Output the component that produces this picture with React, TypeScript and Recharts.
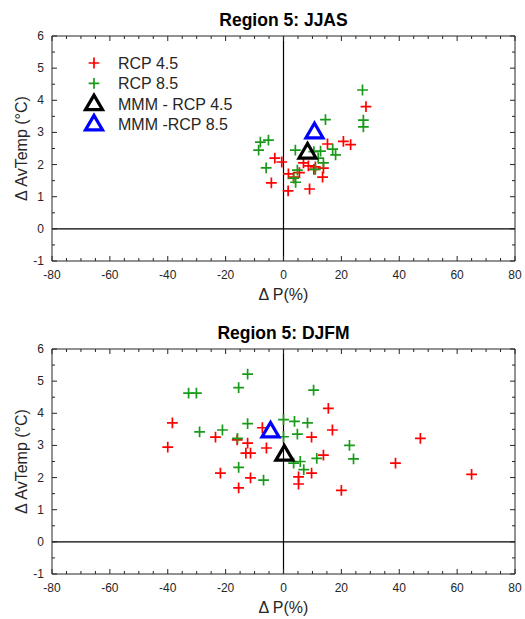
import React from 'react';
import { ScatterChart, Scatter, XAxis, YAxis, ReferenceLine, Legend, Label } from 'recharts';

// JJAS season, change in precipitation (%) vs change in mean temperature (°C)
const jjasRcp45 = [
  { p: 28.5, t: 3.8 }, { p: 20.7, t: 2.72 }, { p: 23.2, t: 2.62 }, { p: 15.2, t: 2.64 },
  { p: -3, t: 2.2 }, { p: -0.6, t: 2.08 }, { p: -4.2, t: 1.43 }, { p: 1.6, t: 1.18 },
  { p: 9, t: 1.24 }, { p: 1.7, t: 1.71 }, { p: 3.5, t: 1.61 }, { p: 6.9, t: 2.05 },
  { p: 8.6, t: 1.96 }, { p: 11, t: 1.93 }, { p: 13.8, t: 1.89 }, { p: 13.5, t: 1.61 },
  { p: 10.5, t: 1.85 }, { p: 5.5, t: 1.75 },
];
const jjasRcp85 = [
  { p: 27.3, t: 4.32 }, { p: 27.6, t: 3.38 }, { p: 27.6, t: 3.17 }, { p: 14.5, t: 3.4 },
  { p: -8, t: 2.7 }, { p: -5.2, t: 2.76 }, { p: -8.6, t: 2.45 }, { p: -6, t: 1.9 },
  { p: 4.1, t: 2.45 }, { p: 12.8, t: 2.42 }, { p: 17, t: 2.48 }, { p: 18, t: 2.3 },
  { p: 12, t: 2.2 }, { p: 13.8, t: 2.05 }, { p: 11, t: 1.85 }, { p: 4.8, t: 1.83 },
  { p: 3.5, t: 1.58 }, { p: 4.2, t: 1.45 }, { p: 10.5, t: 2.4 },
];
const jjasMmm45 = [{ p: 8.3, t: 2.39 }];
const jjasMmm85 = [{ p: 10.7, t: 3.02 }];

// DJFM season
const djfmRcp45 = [
  { p: -40, t: 2.95 }, { p: -38.4, t: 3.7 }, { p: -23.5, t: 3.26 }, { p: -21.8, t: 2.14 },
  { p: -16, t: 3.17 }, { p: -12.4, t: 3.07 }, { p: -13, t: 2.76 }, { p: -11.4, t: 2.76 },
  { p: -7.3, t: 3.55 }, { p: -5.9, t: 2.92 }, { p: -11.4, t: 1.99 }, { p: -15.5, t: 1.68 },
  { p: 9.7, t: 3.26 }, { p: 15.5, t: 4.15 }, { p: 16.9, t: 3.48 }, { p: 13.8, t: 2.7 },
  { p: 9.7, t: 2.14 }, { p: 5.2, t: 2.02 }, { p: 5.2, t: 1.8 }, { p: 20, t: 1.6 },
  { p: 38.7, t: 2.45 }, { p: 47.3, t: 3.22 }, { p: 65, t: 2.1 },
];
const djfmRcp85 = [
  { p: -12.4, t: 5.22 }, { p: -15.5, t: 4.8 }, { p: -32.8, t: 4.63 }, { p: -30.1, t: 4.63 },
  { p: 10.4, t: 4.72 }, { p: -29, t: 3.42 }, { p: -21.1, t: 3.48 }, { p: -12.4, t: 3.68 },
  { p: -15.9, t: 3.22 }, { p: 0, t: 3.8 }, { p: 3.8, t: 3.75 }, { p: 8.3, t: 3.7 },
  { p: 4.8, t: 3.35 }, { p: 0, t: 3.27 }, { p: 22.8, t: 3.0 }, { p: 24.2, t: 2.58 },
  { p: 11.5, t: 2.6 }, { p: -15.5, t: 2.32 }, { p: -6.9, t: 1.92 }, { p: 3.5, t: 2.45 },
  { p: 5.8, t: 2.5 }, { p: 7, t: 2.25 },
];
const djfmMmm45 = [{ p: 0.3, t: 2.73 }];
const djfmMmm85 = [{ p: -4.5, t: 3.45 }];

const seriesNames = ['RCP 4.5', 'RCP 8.5', 'MMM - RCP 4.5', 'MMM -RCP 8.5'];

// minor ticks every 5 % and every 0.5 °C; labels only on the major ones
const xTicks: number[] = [];
for (let v = -80; v <= 80; v += 5) xTicks.push(v);
const yTicks: number[] = [];
for (let v = -1; v <= 6; v += 0.5) yTicks.push(v);

const RED = '#ff0000';
const GREEN = '#1a9a1a';
const BLUE = '#0000ff';
const AXIS = '#262626';
const FONT = '"Liberation Sans", Arial, Helvetica, sans-serif';

const plusShape = (color: string) => (props: any) => {
  const { cx, cy } = props;
  const h = 5.4;
  return (
    <path
      d={`M${cx - h},${cy}H${cx + h}M${cx},${cy - h}V${cy + h}`}
      stroke={color}
      strokeWidth={1.7}
      fill="none"
    />
  );
};

const triangleShape = (color: string) => (props: any) => {
  const { cx, cy } = props;
  return (
    <path
      d={`M${cx},${cy - 8.5}L${cx - 8.5},${cy + 6}L${cx + 8.5},${cy + 6}Z`}
      stroke={color}
      strokeWidth={3.2}
      fill="none"
    />
  );
};

const XTickBottom = (props: any) => {
  const { x, y, payload } = props;
  const v = payload.value;
  const major = v % 20 === 0;
  return (
    <g>
      <line x1={x} x2={x} y1={y} y2={y - (major ? 5 : 3)} stroke={AXIS} />
      {major && (
        <text x={x} y={y + 18} textAnchor="middle" fontSize={12} fill={AXIS} fontFamily={FONT}>
          {v}
        </text>
      )}
    </g>
  );
};

const XTickTop = (props: any) => {
  const { x, y, payload } = props;
  const major = payload.value % 20 === 0;
  return <line x1={x} x2={x} y1={y} y2={y + (major ? 5 : 3)} stroke={AXIS} />;
};

const YTickLeft = (props: any) => {
  const { x, y, payload } = props;
  const v = payload.value;
  const major = Number.isInteger(v);
  return (
    <g>
      <line x1={x} x2={x + (major ? 5 : 3)} y1={y} y2={y} stroke={AXIS} />
      {major && (
        <text x={x - 8} y={y + 4} textAnchor="end" fontSize={12} fill={AXIS} fontFamily={FONT}>
          {v}
        </text>
      )}
    </g>
  );
};

const YTickRight = (props: any) => {
  const { x, y, payload } = props;
  const major = Number.isInteger(payload.value);
  return <line x1={x} x2={x - (major ? 5 : 3)} y1={y} y2={y} stroke={AXIS} />;
};

const renderLegend = () => {
  const icons = [plusShape(RED), plusShape(GREEN), triangleShape('#000'), triangleShape(BLUE)];
  return (
    <svg width={170} height={84}>
      {seriesNames.map((name, i) => (
        <g key={name}>
          {icons[i]({ cx: 12, cy: 10 + i * 20.3 })}
          <text x={36} y={16 + i * 20.3} fontSize={16} fill={AXIS} fontFamily={FONT}>
            {name}
          </text>
        </g>
      ))}
    </svg>
  );
};

interface PanelProps {
  title: string;
  rcp45: { p: number; t: number }[];
  rcp85: { p: number; t: number }[];
  mmm45: { p: number; t: number }[];
  mmm85: { p: number; t: number }[];
  showLegend?: boolean;
}

const Panel: React.FC<PanelProps> = ({ title, rcp45, rcp85, mmm45, mmm85, showLegend }) => (
  <ScatterChart width={525} height={310} margin={{ top: 6, right: 5, bottom: 4, left: 8 }}>
    <XAxis
      xAxisId="b"
      type="number"
      dataKey="p"
      domain={[-80, 80]}
      ticks={xTicks}
      interval={0}
      tickSize={0}
      tickMargin={0}
      tickLine={false}
      tick={<XTickBottom />}
      height={45}
      stroke={AXIS}
      allowDataOverflow
    >
      <Label
        content={(p: any) => (
          <text
            x={p.viewBox.x + p.viewBox.width / 2}
            y={p.viewBox.y + 39}
            textAnchor="middle"
            fontSize={16}
            fill={AXIS}
            fontFamily={FONT}
          >
            Δ P(%)
          </text>
        )}
      />
    </XAxis>
    <XAxis
      xAxisId="t"
      orientation="top"
      type="number"
      dataKey="p"
      domain={[-80, 80]}
      ticks={xTicks}
      interval={0}
      tickSize={0}
      tickMargin={0}
      tickLine={false}
      tick={<XTickTop />}
      height={30}
      stroke={AXIS}
      allowDataOverflow
    >
      <Label
        content={(p: any) => (
          <text
            x={p.viewBox.x + p.viewBox.width / 2}
            y={p.viewBox.y + 20}
            textAnchor="middle"
            fontSize={17.5}
            fontWeight="bold"
            fill="#000"
            fontFamily={FONT}
          >
            {title}
          </text>
        )}
      />
    </XAxis>
    <YAxis
      yAxisId="l"
      type="number"
      dataKey="t"
      domain={[-1, 6]}
      ticks={yTicks}
      interval={0}
      tickSize={0}
      tickMargin={0}
      tickLine={false}
      tick={<YTickLeft />}
      width={44}
      stroke={AXIS}
      allowDataOverflow
    >
      <Label
        content={(p: any) => {
          const cx = p.viewBox.x + 13;
          const cy = p.viewBox.y + p.viewBox.height / 2;
          return (
            <text
              x={cx}
              y={cy}
              transform={`rotate(-90 ${cx} ${cy})`}
              textAnchor="middle"
              dominantBaseline="central"
              fontSize={16}
              fill={AXIS}
              fontFamily={FONT}
            >
              Δ AvTemp (°C)
            </text>
          );
        }}
      />
    </YAxis>
    <YAxis
      yAxisId="r"
      orientation="right"
      type="number"
      dataKey="t"
      domain={[-1, 6]}
      ticks={yTicks}
      interval={0}
      tickSize={0}
      tickMargin={0}
      tickLine={false}
      tick={<YTickRight />}
      width={5}
      stroke={AXIS}
      allowDataOverflow
    />
    <ReferenceLine xAxisId="b" yAxisId="l" x={0} stroke="#000" strokeWidth={1.2} />
    <ReferenceLine xAxisId="b" yAxisId="l" y={0} stroke="#000" strokeWidth={1.2} />
    {showLegend && (
      <Legend
        layout="vertical"
        align="center"
        verticalAlign="middle"
        content={renderLegend}
        wrapperStyle={{ top: 53, left: 82, width: 170, height: 84 }}
      />
    )}
    <Scatter name={seriesNames[0]} xAxisId="b" yAxisId="l" data={rcp45} shape={plusShape(RED)} isAnimationActive={false} />
    <Scatter name={seriesNames[1]} xAxisId="b" yAxisId="l" data={rcp85} shape={plusShape(GREEN)} isAnimationActive={false} />
    <Scatter name={seriesNames[2]} xAxisId="b" yAxisId="l" data={mmm45} shape={triangleShape('#000')} isAnimationActive={false} />
    <Scatter name={seriesNames[3]} xAxisId="b" yAxisId="l" data={mmm85} shape={triangleShape(BLUE)} isAnimationActive={false} />
  </ScatterChart>
);

export default function App() {
  return (
    <div style={{ position: 'absolute', left: 0, top: 0, width: 525, height: 619, background: '#fff' }}>
      <div style={{ position: 'absolute', left: 0, top: 0 }}>
        <Panel
          title="Region 5: JJAS"
          rcp45={jjasRcp45}
          rcp85={jjasRcp85}
          mmm45={jjasMmm45}
          mmm85={jjasMmm85}
          showLegend
        />
      </div>
      <div style={{ position: 'absolute', left: 0, top: 313 }}>
        <Panel
          title="Region 5: DJFM"
          rcp45={djfmRcp45}
          rcp85={djfmRcp85}
          mmm45={djfmMmm45}
          mmm85={djfmMmm85}
        />
      </div>
    </div>
  );
}
